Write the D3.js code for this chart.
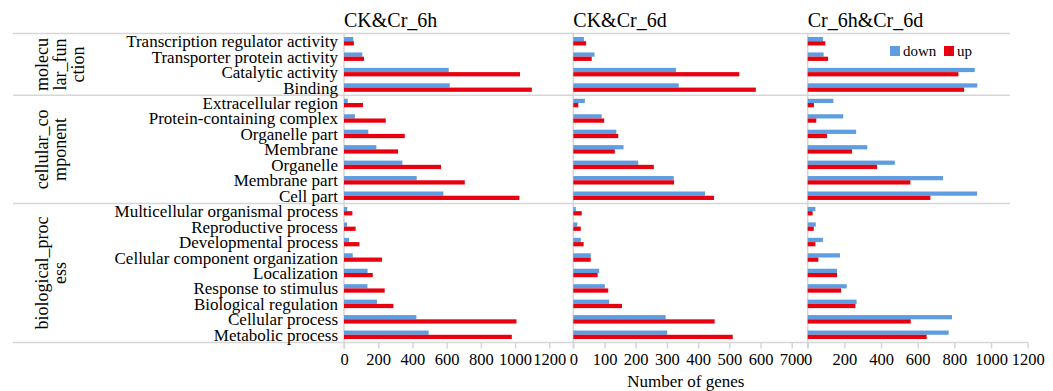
<!DOCTYPE html>
<html>
<head>
<meta charset="utf-8">
<script src="https://cdn.jsdelivr.net/npm/d3@7"></script>
<style>
  html, body { margin: 0; padding: 0; background: #fff; }
  svg { display: block; font-family: "Liberation Serif", "Times New Roman", serif; }
</style>
</head>
<body>
<svg id="chart" width="1053" height="391"></svg>
<script>
// GO term categories, top to bottom
const categories = [
  "Transcription regulator activity", "Transporter protein activity", "Catalytic activity", "Binding",
  "Extracellular region", "Protein-containing complex", "Organelle part", "Membrane",
  "Organelle", "Membrane part", "Cell part",
  "Multicellular organismal process", "Reproductive process", "Developmental process",
  "Cellular component organization", "Localization", "Response to stimulus",
  "Biological regulation", "Cellular process", "Metabolic process"
];

// GO namespaces (wrapped labels) and how many terms each holds
const groupLabels = [["molecu", "lar_fun", "ction"], ["cellular_co", "mponent"], ["biological_proc", "ess"]];
const groupSizes = [4, 7, 9];

// Comparison titles
const panelTitles = ["CK&Cr_6h", "CK&Cr_6d", "Cr_6h&Cr_6d"];

// Numbers of down- and up-regulated genes per comparison
const down6h = [54, 107, 612, 618, 22, 64, 142, 189, 341, 425, 581, 19, 18, 29, 51, 138, 137, 193, 423, 495];
const up6h   = [58, 117, 1029, 1098, 111, 244, 355, 316, 567, 706, 1025, 49, 68, 90, 222, 168, 238, 289, 1008, 981];
const down6d = [34, 68, 329, 338, 37, 91, 138, 161, 208, 322, 422, 8, 13, 24, 56, 83, 101, 115, 296, 301];
const up6d   = [41, 59, 532, 585, 16, 99, 144, 133, 258, 323, 451, 27, 24, 33, 56, 78, 112, 156, 453, 511];
const downCmp = [83, 87, 911, 925, 140, 194, 264, 325, 475, 738, 924, 42, 44, 83, 176, 160, 213, 267, 787, 769];
const upCmp   = [96, 111, 822, 853, 34, 47, 105, 242, 378, 560, 669, 27, 33, 42, 58, 160, 182, 260, 562, 649];

// Axis tick values for each comparison
const ticks6h = [0, 200, 400, 600, 800, 1000, 1200];
const ticks6d = [0, 100, 200, 300, 400, 500, 600, 700];
const ticksCmp = [0, 200, 400, 600, 800, 1000, 1200];

const seriesNames = ["down", "up"];
const seriesColors = { down: "#5f9de2", up: "#e8000e" };

const panels = [
  { title: panelTitles[0], down: down6h, up: up6h, ticks: ticks6h, x0: 344, x1: 549.3 },
  { title: panelTitles[1], down: down6d, up: up6d, ticks: ticks6d, x0: 573.3, x1: 791.7 },
  { title: panelTitles[2], down: downCmp, up: upCmp, ticks: ticksCmp, x0: 807.7, x1: 1027.7 }
];

const svg = d3.select("#chart");
const gridColor = "#d6d6d6";
const plotTop = 33.5, plotBottom = 342.5, plotLeft = 13, gridRight = 1010;

// Row bands (one per term) and sub-bands for the two series
const y = d3.scaleBand().domain(categories).range([plotTop, plotBottom]).paddingInner(0).paddingOuter(0);
const ySub = d3.scaleBand().domain(seriesNames).range([0, y.bandwidth()]).paddingInner(0).paddingOuter(0.82);

// Namespace separators
let acc = 0;
const sepYs = [plotTop];
groupSizes.forEach(n => { acc += n; sepYs.push(y(categories[acc - 1]) + y.bandwidth()); });
svg.append("g").selectAll("line").data(sepYs.slice(0, -1)).join("line")
  .attr("x1", plotLeft).attr("x2", gridRight)
  .attr("y1", d => d).attr("y2", d => d)
  .attr("stroke", gridColor).attr("stroke-width", 1.5);

// Baseline across all panels
svg.append("line")
  .attr("x1", plotLeft).attr("x2", panels[2].x1)
  .attr("y1", plotBottom).attr("y2", plotBottom)
  .attr("stroke", gridColor).attr("stroke-width", 1.5);

// Namespace labels (rotated, wrapped)
acc = 0;
groupSizes.forEach((n, gi) => {
  const y0 = y(categories[acc]);
  const y1 = y(categories[acc + n - 1]) + y.bandwidth();
  acc += n;
  const cy = (y0 + y1) / 2;
  groupLabels[gi].forEach((line, li) => {
    svg.append("text")
      .attr("transform", `translate(${48 + li * 18},${cy}) rotate(-90)`)
      .attr("text-anchor", "middle")
      .attr("font-size", 18)
      .attr("fill", "#000")
      .text(line);
  });
});

// Term labels
svg.append("g").selectAll("text").data(categories).join("text")
  .attr("x", 338)
  .attr("y", d => y(d) + y.bandwidth() / 2 + 6)
  .attr("text-anchor", "end")
  .attr("font-size", 17)
  .attr("fill", "#000")
  .text(d => d);

panels.forEach(p => {
  const x = d3.scaleLinear().domain([p.ticks[0], p.ticks[p.ticks.length - 1]]).range([p.x0, p.x1]);

  // Vertical axis line of the panel
  svg.append("line")
    .attr("x1", p.x0).attr("x2", p.x0)
    .attr("y1", plotTop).attr("y2", plotBottom + 6)
    .attr("stroke", gridColor).attr("stroke-width", 1.5);

  // Bars
  const rows = categories.map((c, i) => ({ c, down: p.down[i], up: p.up[i] }));
  const g = svg.append("g");
  seriesNames.forEach(s => {
    g.append("g").selectAll("rect").data(rows).join("rect")
      .attr("x", x(0))
      .attr("y", d => y(d.c) + ySub(s))
      .attr("width", d => x(d[s]) - x(0))
      .attr("height", ySub.bandwidth())
      .attr("fill", seriesColors[s]);
  });

  // Bottom axis
  const axis = d3.axisBottom(x).tickValues(p.ticks).tickSize(6).tickPadding(5).tickFormat(d3.format("d"));
  const ag = svg.append("g").attr("transform", `translate(0,${plotBottom})`).call(axis);
  ag.select(".domain").remove();
  ag.selectAll(".tick line").attr("stroke", gridColor).attr("stroke-width", 1.5);
  ag.selectAll(".tick text")
    .attr("font-family", "Liberation Serif, Times New Roman, serif")
    .attr("font-size", 16.5).attr("fill", "#000");

  // Panel title
  svg.append("text")
    .attr("x", p.x0).attr("y", 27)
    .attr("font-size", 20).attr("fill", "#000")
    .text(p.title);
});

// Axis title
svg.append("text")
  .attr("x", (panels[0].x0 + panels[2].x1) / 2).attr("y", 387)
  .attr("text-anchor", "middle").attr("font-size", 17).attr("fill", "#000")
  .text("Number of genes");

// Legend
const legend = svg.append("g").attr("transform", "translate(890,46)");
const legendItems = [{ s: "down", x: 0 }, { s: "up", x: 54 }];
legendItems.forEach(it => {
  legend.append("rect").attr("x", it.x).attr("y", 0).attr("width", 10).attr("height", 10)
    .attr("fill", seriesColors[it.s]);
  legend.append("text").attr("x", it.x + 13).attr("y", 9.5)
    .attr("font-size", 15).attr("fill", "#000").text(it.s);
});
</script>
</body>
</html>
